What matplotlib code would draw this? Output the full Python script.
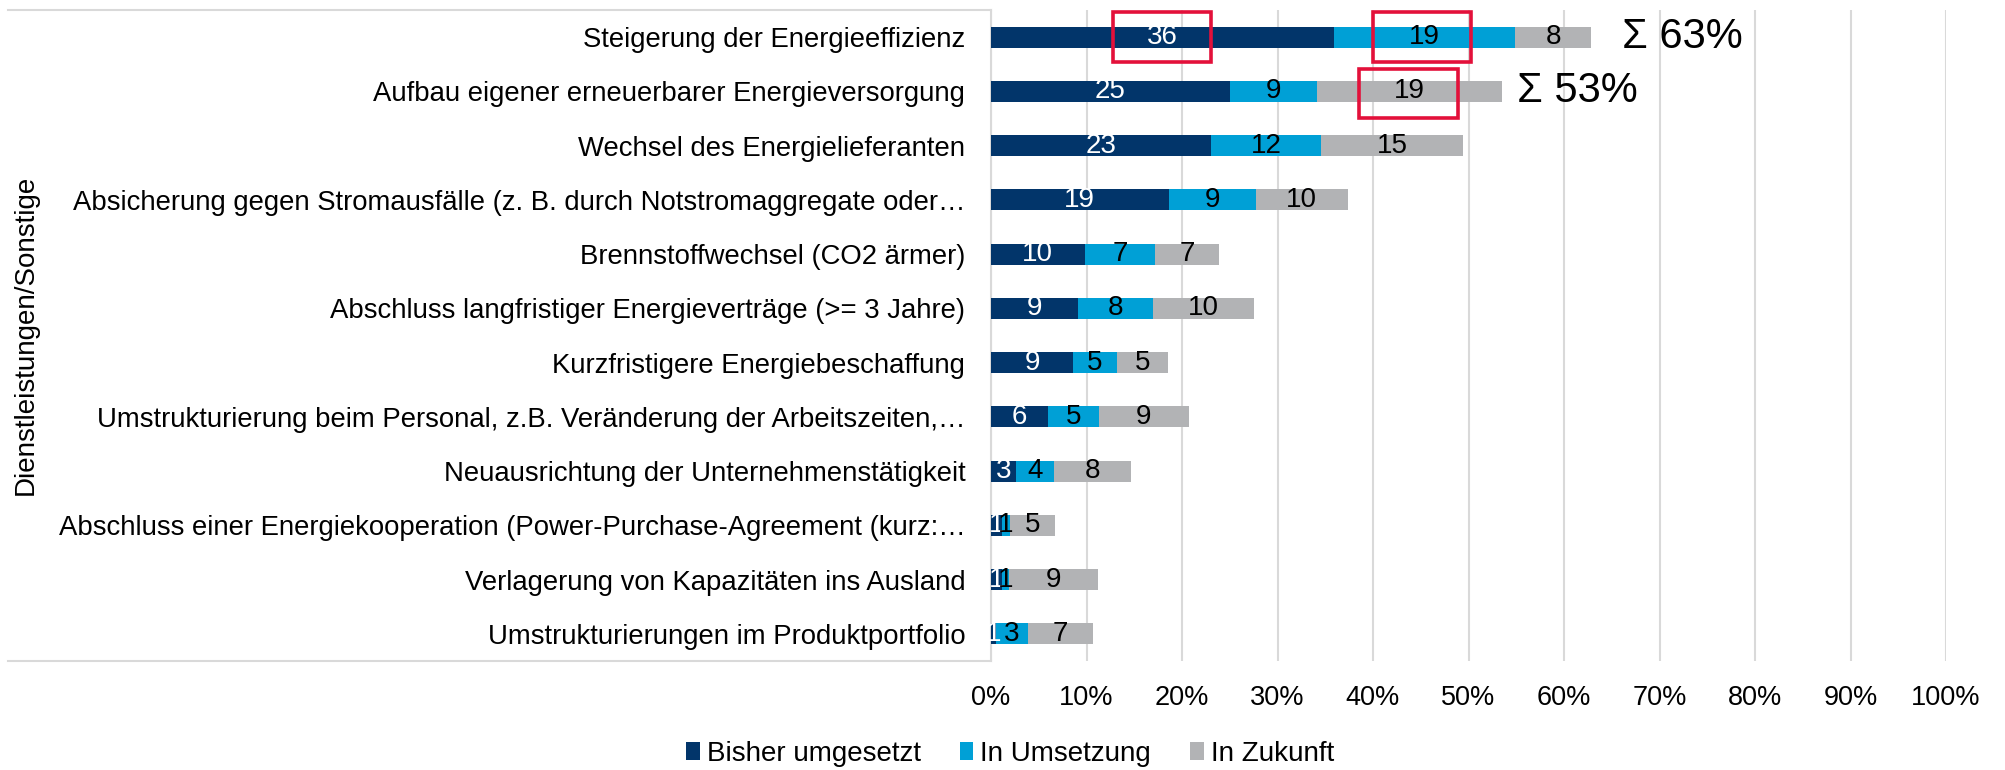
import matplotlib
matplotlib.use("Agg")
import matplotlib.pyplot as plt
from matplotlib.lines import Line2D
from matplotlib.patches import Rectangle
import numpy as np

plt.rcParams['font.family'] = ['Liberation Sans', 'DejaVu Sans']

categories = [
    "Steigerung der Energieeffizienz",
    "Aufbau eigener erneuerbarer Energieversorgung",
    "Wechsel des Energielieferanten",
    "Absicherung gegen Stromausfälle (z. B. durch Notstromaggregate oder…",
    "Brennstoffwechsel (CO2 ärmer)",
    "Abschluss langfristiger Energieverträge (>= 3 Jahre)",
    "Kurzfristigere Energiebeschaffung",
    "Umstrukturierung beim Personal, z.B. Veränderung der Arbeitszeiten,…",
    "Neuausrichtung der Unternehmenstätigkeit",
    "Abschluss einer Energiekooperation (Power-Purchase-Agreement (kurz:…",
    "Verlagerung von Kapazitäten ins Ausland",
    "Umstrukturierungen im Produktportfolio",
]
series_names = ["Bisher umgesetzt", "In Umsetzung", "In Zukunft"]

# measured segment lengths (percent)
bisher = [35.9, 25.0, 23.0, 18.6, 9.8, 9.1, 8.6, 6.0, 2.6, 1.1, 1.2, 0.5]
umsetzung = [19.0, 9.1, 11.6, 9.1, 7.4, 7.9, 4.6, 5.3, 4.0, 0.9, 0.7, 3.4]
zukunft = [7.9, 19.4, 14.8, 9.7, 6.7, 10.5, 5.3, 9.4, 8.1, 4.7, 9.3, 6.8]

# labels as printed in the chart
bisher_lbl = [36, 25, 23, 19, 10, 9, 9, 6, 3, 1, 1, 1]
umsetzung_lbl = [19, 9, 12, 9, 7, 8, 5, 5, 4, 1, 1, 3]
zukunft_lbl = [8, 19, 15, 10, 7, 10, 5, 9, 8, 5, 9, 7]

x_ticks = [0, 10, 20, 30, 40, 50, 60, 70, 80, 90, 100]
sum_labels = ["Σ 63%", "Σ 53%"]

group_label = "Dienstleistungen/Sonstige"

c_dark = "#02356A"
c_light = "#00A0D6"
c_gray = "#B2B3B5"
c_grid = "#D9D9D9"
c_red = "#E3103A"

W, H = 2005, 770
fig = plt.figure(figsize=(W / 100, H / 100), dpi=100)
ax = fig.add_axes([991 / W, 1 - 661 / H, (1946 - 991) / W, (661 - 10) / H])

y = np.arange(len(categories))
b = np.array(bisher)
u = np.array(umsetzung)
z = np.array(zukunft)
bh = 0.39
c1 = ax.barh(y, b, height=bh, color=c_dark, zorder=3)
c2 = ax.barh(y, u, left=b, height=bh, color=c_light, zorder=3)
c3 = ax.barh(y, z, left=b + u, height=bh, color=c_gray, zorder=3)

ax.bar_label(c1, labels=[str(v) for v in bisher_lbl], label_type='center',
             color='white', fontsize=20, zorder=4)
ax.bar_label(c2, labels=[str(v) for v in umsetzung_lbl], label_type='center',
             color='black', fontsize=20, zorder=4)
ax.bar_label(c3, labels=[str(v) for v in zukunft_lbl], label_type='center',
             color='black', fontsize=20, zorder=4)

ax.set_xlim(0, 100)
ax.set_ylim(len(categories) - 0.5, -0.5)
ax.set_xticks(x_ticks)
ax.set_xticklabels([f"{v}%" for v in x_ticks], fontsize=19.5)
ax.set_yticks(y)
ax.set_yticklabels(categories, fontsize=19.8)
ax.tick_params(axis='x', length=0, pad=17)
ax.tick_params(axis='y', length=0, pad=18.5)
ax.grid(axis='x', color=c_grid, linewidth=1.5, zorder=0)
ax.set_axisbelow(True)
for s in ['top', 'right', 'bottom']:
    ax.spines[s].set_visible(False)
ax.spines['left'].set_color(c_grid)
ax.spines['left'].set_linewidth(1.5)

# group box lines of multi-level category axis
for yy in (10, 661):
    fig.add_artist(Line2D([8 / W, 991 / W], [1 - yy / H, 1 - yy / H],
                          color=c_grid, linewidth=1.5))
fig.text(26 / W, 1 - 335 / H, group_label, rotation=90, ha='center',
         va='center', fontsize=20)

# sum annotations
ax.text(66.1, 0, sum_labels[0], fontsize=30, ha='left', va='center')
ax.text(55.1, 1, sum_labels[1], fontsize=30, ha='left', va='center')

# red highlight boxes
for (x0, x1, yc, d0, d1) in [(12.8, 23.0, 0, -0.46, 0.46),
                              (40.0, 50.3, 0, -0.46, 0.46),
                              (38.5, 48.9, 1, -0.41, 0.49)]:
    ax.add_patch(Rectangle((x0, yc + d0), x1 - x0, d1 - d0, fill=False,
                           edgecolor=c_red, linewidth=2.6, zorder=6,
                           clip_on=False))

fig.legend([c1, c2, c3], series_names, loc='center',
           bbox_to_anchor=(1010 / W, 1 - 754 / H), ncol=3, frameon=False,
           fontsize=20, handlelength=0.5, handleheight=0.6,
           handletextpad=0.25, columnspacing=1.4, borderaxespad=0,
           borderpad=0)

fig.savefig("out.png", dpi=100)
